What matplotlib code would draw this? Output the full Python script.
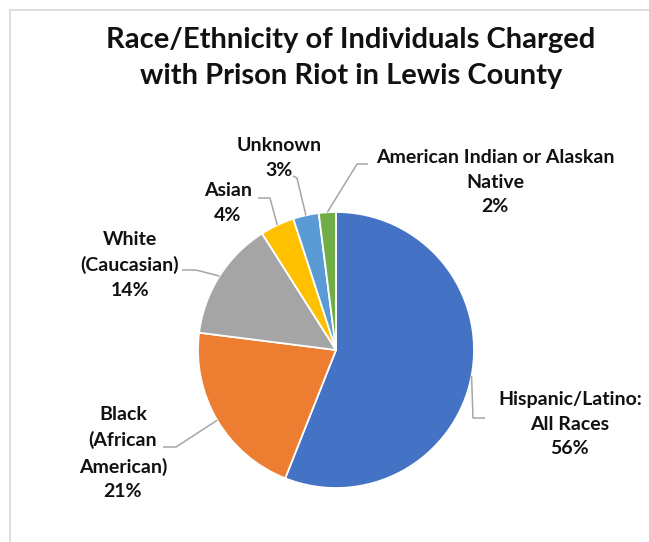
import numpy as np
import matplotlib
matplotlib.use('Agg')
import matplotlib.pyplot as plt
from matplotlib.lines import Line2D

# data
labels = ['Hispanic/Latino:\nAll Races', 'Black\n(African\nAmerican)', 'White\n(Caucasian)',
          'Asian', 'Unknown', 'American Indian or Alaskan\nNative']
values = [56, 21, 14, 4, 3, 2]
colors = ['#4472C4', '#ED7D31', '#A5A5A5', '#FFC000', '#5B9BD5', '#70AD47']
title = 'Race/Ethnicity of Individuals Charged\nwith Prison Riot in Lewis County'

W, H = 649, 542
plt.rcParams['font.family'] = ['Lato', 'DejaVu Sans']

fig = plt.figure(figsize=(W / 100, H / 100), dpi=100)
ax = fig.add_axes([0, 0, 1, 1])
ax.set_xlim(0, W)
ax.set_ylim(0, H)
ax.set_aspect('equal')
ax.axis('off')


def Y(p):
    # pixel row (from top) -> data y
    return H - p


# chart frame (light gray, left and top edges)
ax.add_line(Line2D([10, 10], [Y(10), Y(560)], color='#d9d9d9', lw=1.2))
ax.add_line(Line2D([10, 660], [Y(10), Y(10)], color='#d9d9d9', lw=1.2))

cx, cy, r = 336, Y(350), 138
wedges, _ = ax.pie(values, colors=colors, startangle=90, counterclock=False,
                   center=(cx, cy), radius=r,
                   wedgeprops=dict(edgecolor='white', linewidth=1.3))
ax.set_xlim(0, W)
ax.set_ylim(0, H)

# label centres (pixels) and leader line knee/end points
label_pos = [(570, 424), (123, 453), (130, 265), (228, 203), (279, 158), (495, 182)]
leaders = [[(473, 418), (485, 418)],
           [(176, 447), (163, 447)],
           [(196, 270), (182, 270)],
           [(270, 198), (258, 198)],
           [(297, 178), (293, 176)],
           [(357, 164), (368, 164)]]

for w, lab, v, (lx, ly), pts in zip(wedges, labels, values, label_pos, leaders):
    mid = np.deg2rad((w.theta1 + w.theta2) / 2)
    sx, sy = cx + r * np.cos(mid), cy + r * np.sin(mid)
    xs = [sx] + [p[0] for p in pts]
    ys = [sy] + [Y(p[1]) for p in pts]
    ax.plot(xs, ys, color='#a6a6a6', lw=1.1, solid_capstyle='butt')
    ax.text(lx, Y(ly), f'{lab}\n{v}%', ha='center', va='center', fontsize=14,
            fontweight='bold', color='#111111', linespacing=1.55)

ax.text(351, Y(58), title, ha='center', va='center', fontsize=21,
        fontweight='bold', color='#111111', linespacing=1.5)

fig.savefig('out.png', dpi=100)
